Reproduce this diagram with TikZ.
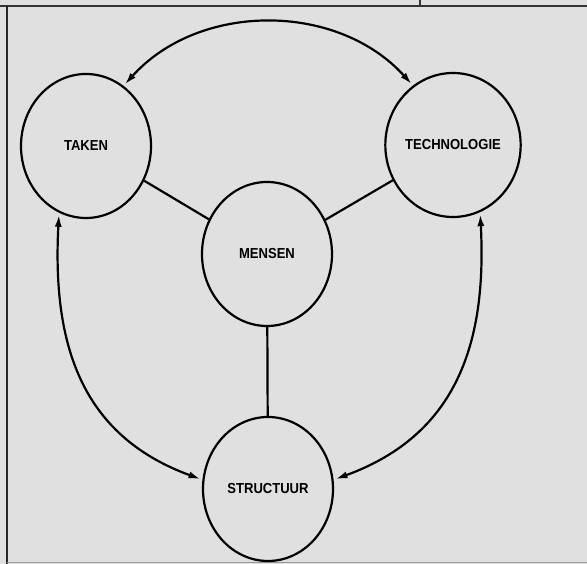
\documentclass[tikz,border=0pt]{standalone}
\usepackage{fontspec}
\setmainfont{Liberation Sans}
\usetikzlibrary{shapes.geometric,arrows.meta}

\newcommand{\ringlabel}[1]{\scalebox{0.9}[1]{#1}}

\begin{document}
\begin{tikzpicture}[x=1pt,y=1pt,line width=2.2pt,
  >={Latex[length=12pt,width=7pt]},
  ring/.style={ellipse, draw=black, inner sep=0pt,
    minimum width=130pt, minimum height=144pt,
    font=\bfseries\fontsize{14.5}{17}\selectfont},
  loop/.style={<->, shorten <=2pt, shorten >=2pt}]

  \fill[black!12] (0,0) rectangle (587,564);
  \useasboundingbox (0,0) rectangle (587,564);

  % frame of the page
  \draw[black!80, line width=1.4pt] (0,558) -- (587,558);
  \draw[black!80, line width=1.4pt] (420,558) -- (420,564);
  \draw[black!85, line width=2pt] (7,558) -- (7,0);
  \draw[black!40, line width=1pt] (7,1) -- (587,1);

  \node[ring] (taken) at (86,418) {\ringlabel{TAKEN}};
  \node[ring] (tech) at (453,419) {\ringlabel{TECHNOLOGIE}};
  \node[ring] (mensen) at (267,310) {\ringlabel{MENSEN}};
  \node[ring] (struc) at (268,75) {\ringlabel{STRUCTUUR}};

  \draw (taken) -- (mensen);
  \draw (tech) -- (mensen);
  \draw (mensen) -- (struc);

  \draw[loop] (taken.58) to[bend left=48] (tech.124);
  \draw[loop] (taken.248) to[out=267, in=160, looseness=1.1] (struc.172);
  \draw[loop] (tech.292) to[out=273, in=20, looseness=1.1] (struc.8);
\end{tikzpicture}
\end{document}
